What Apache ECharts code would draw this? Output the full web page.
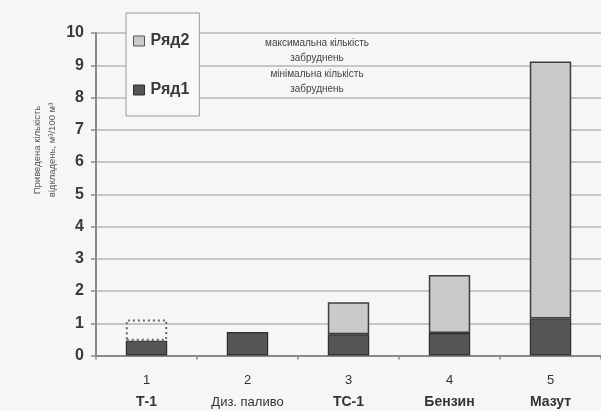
<!DOCTYPE html>
<html>
<head>
<meta charset="utf-8">
<script src="https://cdn.jsdelivr.net/npm/echarts@6/dist/echarts.min.js"></script>
<style>html,body{margin:0;padding:0;background:#f6f6f6;}#c{width:601px;height:411px;}</style>
</head>
<body>
<div id="c"></div>
<script>
var categoryNumbers = ['1', '2', '3', '4', '5'];
var categoryNames = ['Т-1', 'Диз. паливо', 'ТС-1', 'Бензин', 'Мазут'];
var seriesNames = ['Ряд1', 'Ряд2'];
var row1Values = [0.46, 0.73, 0.66, 0.70, 1.15];
var row2Values = [0.66, null, 0.99, 1.80, 7.97];
var yTicks = [0, 1, 2, 3, 4, 5, 6, 7, 8, 9, 10];
var annotationLines = ['максимальна кількість', 'забруднень', 'мінімальна кількість', 'забруднень'];
var yTitleLines = ['Приведена кількість', 'відкладень, м³/100 м³'];

var chart = echarts.init(document.getElementById('c'));
var FONT = 'Liberation Sans, Arial, sans-serif';

var row2Data = row2Values.map(function (v, i) {
  if (i === 0) {
    return { value: v, itemStyle: { color: 'rgba(0,0,0,0)', borderColor: '#666', borderType: [2, 3], borderWidth: 2 } };
  }
  return v;
});

var option = {
  backgroundColor: '#f6f6f6',
  animation: false,
  grid: { left: 96, top: 33, width: 512, bottom: 55.5, containLabel: false },
  legend: {
    data: [
      { name: seriesNames[1], icon: 'rect', itemStyle: { color: '#cacaca', borderColor: '#555', borderWidth: 1 } },
      { name: seriesNames[0], icon: 'rect', itemStyle: { color: '#555555', borderColor: '#2e2e2e', borderWidth: 1 } }
    ],
    orient: 'vertical',
    left: 126,
    top: 13,
    padding: [20, 10, 18, 7],
    itemGap: 33,
    itemWidth: 11,
    itemHeight: 10,
    borderColor: '#9a9a9a',
    borderWidth: 1,
    backgroundColor: '#f8f8f8',
    textStyle: { fontFamily: FONT, fontSize: 16, fontWeight: 'bold', color: '#3a3a3a', padding: [0, 0, 0, 1] }
  },
  xAxis: {
    type: 'category',
    data: categoryNumbers,
    axisLine: { lineStyle: { color: '#8a8a8a', width: 2 } },
    axisTick: { show: true, length: 4, lineStyle: { color: '#8a8a8a', width: 1.5 } },
    splitLine: { show: false },
    axisLabel: {
      margin: 14,
      interval: 0,
      formatter: function (val, idx) {
        var nm = categoryNames[idx];
        var style = (idx === 1) ? 'n' : 'b';
        return '{num|' + val + '}\n{' + style + '|' + nm + '}';
      },
      rich: {
        num: { fontFamily: FONT, fontSize: 13, color: '#333', lineHeight: 22 },
        b: { fontFamily: FONT, fontSize: 14, fontWeight: 'bold', color: '#333', lineHeight: 22 },
        n: { fontFamily: FONT, fontSize: 13, color: '#333', lineHeight: 22 }
      }
    }
  },
  yAxis: {
    type: 'value',
    min: yTicks[0],
    max: yTicks[yTicks.length - 1],
    interval: 1,
    axisLine: { show: true, lineStyle: { color: '#8a8a8a', width: 2 } },
    axisTick: { show: true, length: 5, lineStyle: { color: '#8a8a8a', width: 1.5 } },
    splitLine: { show: true, lineStyle: { color: '#b4b4b4', width: 1.5 } },
    axisLabel: { margin: 12, fontFamily: FONT, fontSize: 16, fontWeight: 'bold', color: '#3a3a3a' }
  },
  series: [
    {
      name: seriesNames[0],
      type: 'bar',
      stack: 'total',
      barWidth: '41%',
      data: row1Values,
      itemStyle: { color: '#555555', borderColor: '#2e2e2e', borderWidth: 1.2 }
    },
    {
      name: seriesNames[1],
      type: 'bar',
      stack: 'total',
      barWidth: '41%',
      data: row2Data,
      itemStyle: { color: '#cacaca', borderColor: '#3e3e3e', borderWidth: 1.5 }
    }
  ],
  graphic: [
    {
      type: 'group',
      children: annotationLines.map(function (t, i) {
        return {
          type: 'text',
          x: 317,
          y: 43 + i * 15.5,
          style: { text: t, fontFamily: FONT, fontSize: 10, fill: '#444', textAlign: 'center', textVerticalAlign: 'middle' }
        };
      })
    },
    {
      type: 'text',
      x: 45,
      y: 150,
      rotation: Math.PI / 2,
      style: {
        text: yTitleLines.join('\n'),
        fontFamily: FONT,
        fontSize: 9.5,
        lineHeight: 15,
        fill: '#555',
        textAlign: 'center',
        textVerticalAlign: 'middle'
      }
    }
  ]
};
chart.setOption(option);
</script>
</body>
</html>
